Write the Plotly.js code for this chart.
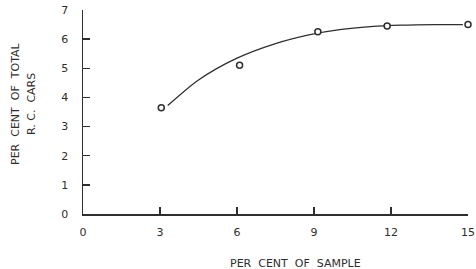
<!DOCTYPE html>
<html><head><meta charset="utf-8">
<script src="https://cdn.plot.ly/plotly-3.0.1.min.js"></script>
<style>html,body{margin:0;padding:0;background:#fff}#c{width:476px;height:269px}</style>
</head><body><div id="c"></div>
<script>
const sampleX = [3.05, 6.1, 9.15, 11.85, 15];
const carsY = [3.65, 5.1, 6.25, 6.45, 6.5];
const curveX = [3.3, 4.5, 6.0, 7.5, 8.8, 10.0, 11.2, 12.4, 13.7, 14.8];
const curveY = [3.72, 4.6, 5.35, 5.85, 6.15, 6.33, 6.43, 6.48, 6.5, 6.5];
const xTicks = [0, 3, 6, 9, 12, 15];
const yTicks = [0, 1, 2, 3, 4, 5, 6, 7];

const ink = '#2e2e2e';
const font = {family: 'DejaVu Sans', size: 11, color: ink};
const tfont = {family: 'DejaVu Sans', size: 11, color: ink};

Plotly.newPlot('c', [
  {x: curveX, y: curveY, mode: 'lines', line: {color: ink, width: 1.3, shape: 'spline', smoothing: 0.8}, hoverinfo: 'skip', cliponaxis: false},
  {x: sampleX, y: carsY, mode: 'markers', cliponaxis: false, marker: {symbol: 'circle', size: 6, color: '#fff', line: {color: ink, width: 1.5}}}
], {
  width: 476, height: 269,
  margin: {l: 83, r: 8, t: 10, b: 55},
  paper_bgcolor: '#fff', plot_bgcolor: '#fff',
  showlegend: false,
  font: font,
  xaxis: {range: [0, 15], tickvals: xTicks, ticktext: xTicks.map(String), ticks: 'inside', ticklen: 7, tickcolor: ink, tickwidth: 1.3,
    showline: true, linecolor: ink, linewidth: 1.5, showgrid: false, zeroline: false, fixedrange: true, tickfont: font, ticklabelstandoff: 7},
  yaxis: {range: [0, 7], tickvals: yTicks, ticktext: yTicks.map(String), ticks: 'inside', ticklen: 7, tickcolor: ink, tickwidth: 1.3,
    showline: true, linecolor: ink, linewidth: 1.5, showgrid: false, zeroline: false, fixedrange: true, tickfont: font, ticklabelstandoff: 11},
  annotations: [
    {text: 'PER  CENT  OF  SAMPLE', xref: 'paper', yref: 'paper', x: (295-83)/385, y: -(263-214)/204, xanchor: 'center', yanchor: 'middle', showarrow: false, font: tfont},
    {text: 'PER  CENT  OF  TOTAL', xref: 'paper', yref: 'paper', x: -(83-15)/385, y: (214-104)/204, xanchor: 'center', yanchor: 'middle', textangle: -90, showarrow: false, font: tfont},
    {text: 'R. C.  CARS', xref: 'paper', yref: 'paper', x: -(83-31)/385, y: (214-104)/204, xanchor: 'center', yanchor: 'middle', textangle: -90, showarrow: false, font: tfont}
  ]
}, {displayModeBar: false, staticPlot: true});
</script></body></html>
